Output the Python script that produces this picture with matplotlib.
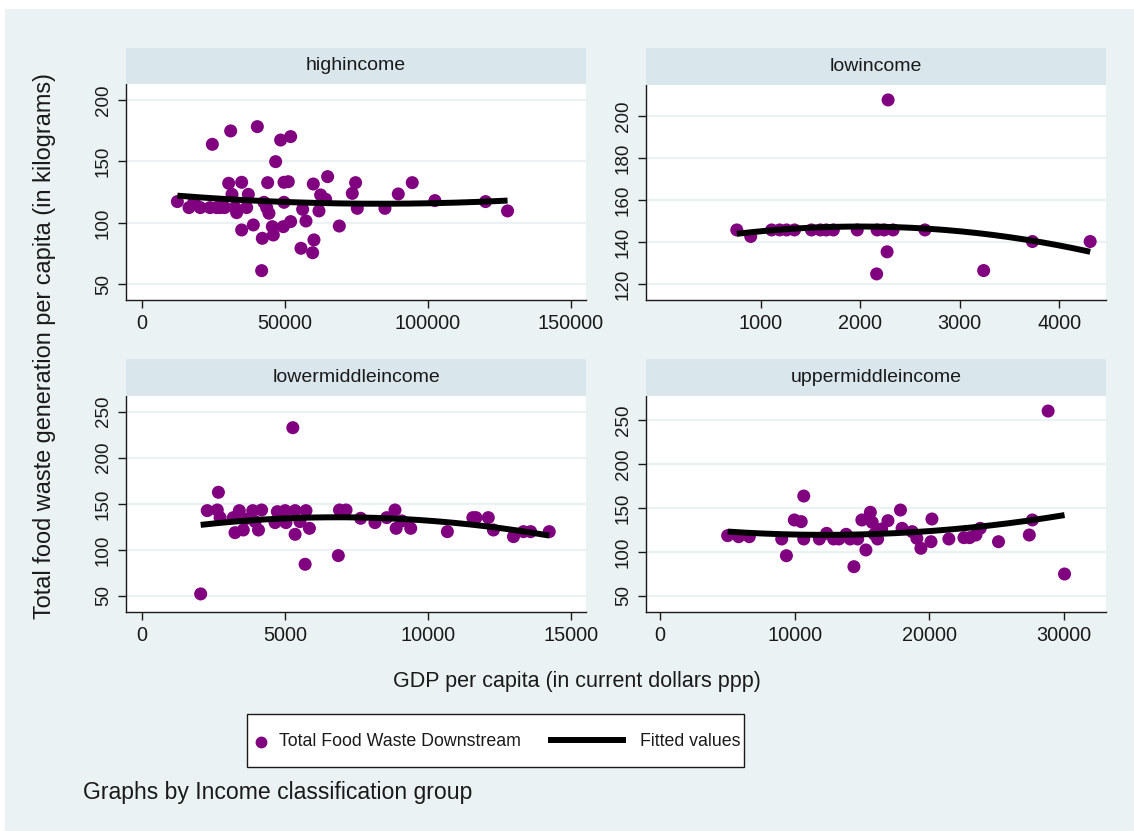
import numpy as np
import matplotlib.pyplot as plt
from matplotlib.patches import Rectangle
from matplotlib.lines import Line2D

plt.rcParams["font.family"] = ["Liberation Sans", "DejaVu Sans"]

W, H = 1134, 831
PURPLE = "#800080"
BG = "#EAF2F3"
STRIP = "#D9E6EB"
GRID = "#EAF2F3"
INK = "#1a1a1a"

# scatter data per income group: GDP per capita (ppp) vs food waste (kg/capita)
high_gdp = [12470, 16540, 18290, 23880, 24700, 26210, 27380, 31110, 30410, 31570,
            32620, 33200, 34950, 37280, 34950, 36700, 39030, 40430, 42760, 43690,
            44500, 44040, 42170, 45670, 46020, 46830, 48580, 52080, 49750, 51260,
            49750, 49510, 52080, 41940, 56270, 57440, 55690, 59770, 60230, 60000,
            61980, 62560, 64310, 65010, 69090, 73630, 74790, 75380, 85050, 89710,
            94600, 102520, 120230, 127920, 20500, 29000]
high_waste = [117.3, 112.4, 117.3, 112.4, 163.9, 112.4, 112.4, 174.8, 132.2, 123.2,
              112.4, 108.3, 133.0, 123.2, 94.2, 112.4, 98.3, 178.3, 116.7, 112.4,
              107.8, 132.7, 87.4, 96.9, 90.1, 149.8, 167.4, 170.2, 133.0, 133.5,
              116.7, 96.9, 101.0, 61.1, 111.0, 101.5, 79.3, 75.7, 86.1, 131.6,
              109.7, 122.7, 119.2, 137.6, 97.4, 124.0, 132.7, 111.8, 111.8, 123.5,
              132.7, 118.1, 117.3, 109.7, 112.4, 112.4]

low_gdp = [760, 900, 1110, 1190, 1260, 1340, 1510, 1600, 1660, 1730,
           1970, 2170, 2240, 2330, 2280, 2270, 2165, 2650, 3240, 3730, 4310]
low_waste = [145.8, 142.7, 145.8, 145.8, 145.8, 145.8, 145.8, 145.8, 145.8, 145.8,
             145.8, 145.8, 145.8, 145.8, 207.6, 135.4, 124.9, 145.8, 126.5, 140.3, 140.3]

lmid_gdp = [2060, 2290, 2640, 2680, 2740, 3200, 3260, 3410, 3550, 3610,
            3880, 3960, 4080, 4190, 4660, 4740, 5010, 5040, 5280, 5360,
            5360, 5530, 5740, 5860, 5710, 6870, 6910, 7140, 7650, 8150,
            8560, 8850, 8890, 9090, 9400, 10680, 11570, 11680, 12110, 12290,
            12990, 13340, 13590, 14240]
lmid_waste = [52.2, 142.6, 143.3, 162.5, 135.0, 135.0, 118.7, 142.6, 121.6, 133.5,
              142.6, 130.7, 121.6, 143.3, 129.6, 141.5, 142.6, 129.6, 232.6, 142.6,
              116.9, 130.7, 142.6, 123.4, 84.4, 93.8, 143.3, 143.3, 134.3, 129.6,
              135.0, 143.3, 123.4, 131.4, 123.4, 119.8, 135.0, 135.0, 135.0, 121.6,
              114.4, 119.8, 119.8, 119.8]

umid_gdp = [5020, 5840, 6630, 9040, 9390, 9980, 10490, 10680, 10680, 11840,
            12380, 12900, 13290, 13830, 14130, 14410, 14690, 15000, 15300, 15630,
            15770, 15930, 16170, 16470, 16940, 17870, 17990, 18740, 19090, 19390,
            20140, 20210, 21470, 22590, 23010, 23480, 23800, 25160, 27450, 27680,
            28850, 30070]
umid_waste = [118.6, 117.4, 117.4, 114.8, 95.8, 136.4, 134.5, 163.6, 114.8, 114.8,
              121.2, 114.8, 114.8, 120.1, 114.8, 83.3, 114.8, 136.4, 102.3, 145.1,
              133.7, 120.1, 114.8, 126.1, 135.6, 147.7, 126.9, 123.1, 115.5, 104.2,
              111.7, 137.5, 114.8, 116.3, 116.3, 119.3, 126.9, 111.7, 119.3, 136.4,
              260.2, 75.0]

panels = [
    ("highincome", high_gdp, high_waste, (126, 48, 84, 586, 300),
     (-5490, 155350), (37.2, 213.0), [0, 50000, 100000, 150000], [50, 100, 150, 200]),
    ("lowincome", low_gdp, low_waste, (646, 48, 85, 1106, 300),
     (-152, 4469), (112.5, 214.7), [1000, 2000, 3000, 4000], [120, 140, 160, 180, 200]),
    ("lowermiddleincome", lmid_gdp, lmid_waste, (126, 359, 396, 586, 612),
     (-549, 15524), (32.6, 267.0), [0, 5000, 10000, 15000], [50, 100, 150, 200, 250]),
    ("uppermiddleincome", umid_gdp, umid_waste, (646, 359, 396, 1106, 612),
     (-1051, 33153), (31.8, 277.3), [0, 10000, 20000, 30000], [50, 100, 150, 200, 250]),
]


def fig_box(l, t, r, b):
    return [l / W, 1 - b / H, (r - l) / W, (b - t) / H]


fig = plt.figure(figsize=(W / 100, H / 100), dpi=100, facecolor="white")
fig.patches.append(Rectangle((5 / W, 0), 1 - 5 / W, 1 - 9 / H, transform=fig.transFigure,
                             facecolor=BG, edgecolor="none", zorder=-10))

for name, gx, gy, (l, st, t, r, b), xlim, ylim, xt, yt in panels:
    ax = fig.add_axes(fig_box(l, t, r, b))
    ax.set_facecolor("white")
    ax.scatter(gx, gy, s=88, color=PURPLE, edgecolors="none", zorder=3)

    # quadratic fit over the observed range
    coef = np.polyfit(gx, gy, 2)
    xs = np.linspace(min(gx), max(gx), 200)
    ax.plot(xs, np.polyval(coef, xs), color="black", lw=4.3, zorder=4,
            solid_capstyle="butt")

    ax.set_xlim(*xlim)
    ax.set_ylim(*ylim)
    ax.set_xticks(xt)
    ax.set_yticks(yt)
    ax.set_xticklabels([str(v) for v in xt], fontsize=14.3, color=INK)
    ax.set_yticklabels([str(v) for v in yt], fontsize=13.5, color=INK,
                       rotation=90, va="center")
    ax.tick_params(length=6, width=1, color=INK, pad=4)
    for v in yt:
        ax.axhline(v, color=GRID, lw=1.6, zorder=1)
    for side in ["top", "right"]:
        ax.spines[side].set_visible(False)
    for side in ["left", "bottom"]:
        ax.spines[side].set_color(INK)
        ax.spines[side].set_linewidth(1)

    # strip header with the group name
    fig.patches.append(Rectangle((l / W, 1 - t / H), (r - l) / W, (t - st) / H,
                                 transform=fig.transFigure, facecolor=STRIP,
                                 edgecolor="none"))
    fig.text((l + r) / 2 / W, 1 - (st + t) / 2 / H, name, ha="center", va="center",
             fontsize=14, color=INK)

fig.text(45 / W, 1 - 346 / H, "Total food waste generation per capita (in kilograms)",
         rotation=90, ha="center", va="center", fontsize=16.9, color=INK)
fig.text(577 / W, 1 - 682 / H, "GDP per capita (in current dollars ppp)",
         ha="center", va="center", fontsize=15.5, color=INK)

# legend box
fig.patches.append(Rectangle((247 / W, 1 - 767 / H), (744 - 247) / W, (767 - 714) / H,
                             transform=fig.transFigure, facecolor="white",
                             edgecolor=INK, lw=1))
fig.lines.append(Line2D([261 / W], [1 - 742 / H], marker="o", ms=8.5, color=PURPLE,
                        mec="none", ls="none", transform=fig.transFigure))
fig.text(279 / W, 1 - 742 / H, "Total Food Waste Downstream", ha="left", va="center",
         fontsize=12.8, color=INK)
fig.lines.append(Line2D([548 / W, 626 / W], [1 - 740 / H, 1 - 740 / H], color="black",
                        lw=4.3, solid_capstyle="butt", transform=fig.transFigure))
fig.text(640 / W, 1 - 742 / H, "Fitted values", ha="left", va="center",
         fontsize=12.8, color=INK)

fig.text(83 / W, 1 - 793 / H, "Graphs by Income classification group", ha="left",
         va="center", fontsize=16.6, color=INK)

fig.savefig("out.png", dpi=100, facecolor="white")
